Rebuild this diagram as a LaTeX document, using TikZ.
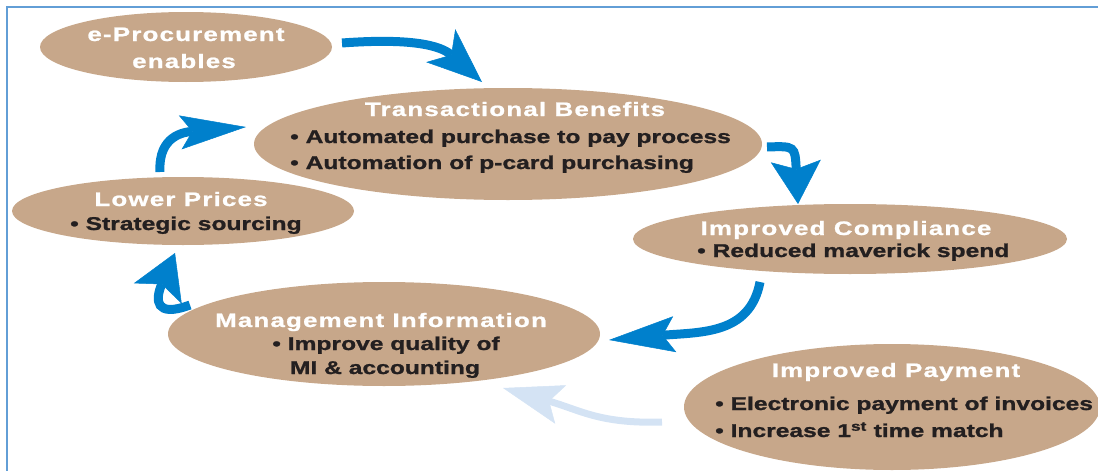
\documentclass[tikz,border=0pt]{standalone}
\usepackage{fontspec}
\setmainfont{Liberation Sans}
\newfontfamily\blobfont{Liberation Sans}[FakeStretch=1.33,FakeBold=1.2]
\newfontfamily\titlefont{Liberation Sans}[FakeStretch=1.33,LetterSpace=6,FakeBold=1]
\usetikzlibrary{arrows.meta,shapes.geometric}

\definecolor{blobtan}{RGB}{199,167,138}
\definecolor{flowblue}{RGB}{0,128,204}
\definecolor{paleblue}{RGB}{212,227,244}
\definecolor{frameblue}{RGB}{98,158,214}
\definecolor{ink}{RGB}{35,31,32}

\tikzset{
  blob/.style={ellipse, fill=blobtan, inner sep=0pt},
  ttl/.style={anchor=base, text=white, inner sep=0pt,
    font=\titlefont\bfseries\fontsize{19.5}{24}\selectfont},
  itm/.style={anchor=base west, text=ink, inner sep=0pt,
    font=\blobfont\bfseries\fontsize{18.5}{22}\selectfont},
  flow/.style={draw=flowblue, line width=9pt},
  faintflow/.style={draw=paleblue, line width=7pt},
}

\begin{document}
\begin{tikzpicture}[x=1pt, y=-1pt]
  \useasboundingbox (0,0) rectangle (1098,471);
  \clip (0,0) rectangle (1098,471);
  \draw[frameblue, line width=2pt] (7,471) -- (7,7) -- (1098,7);

  % the six ellipses
  \node[blob, minimum width=292pt, minimum height=70pt]  (ep) at (186,47) {};
  \node[blob, minimum width=508pt, minimum height=112pt] (tb) at (508,144) {};
  \node[blob, minimum width=342pt, minimum height=68pt]  (lp) at (183,211) {};
  \node[blob, minimum width=434pt, minimum height=70pt]  (ic) at (850,239) {};
  \node[blob, minimum width=432pt, minimum height=104pt] (mi) at (384,334) {};
  \node[blob, minimum width=416pt, minimum height=126pt] (ip) at (892,407) {};

  % texts
  \node[ttl] (eptitle) at (186,41) {e-Procurement};
  \node[ttl] (epsub) at (184,68) {enables};

  \node[ttl] (tbtitle) at (515,116) {Transactional Benefits};
  \node[itm] (tbone) at (290,143) {• Automated purchase to pay process};
  \node[itm] (tbtwo) at (290,169) {• Automation of p-card purchasing};

  \node[ttl] (lptitle) at (181,206) {Lower Prices};
  \node[itm] (lpone) at (70,230) {• Strategic sourcing};

  \node[ttl] (ictitle) at (846,235) {Improved Compliance};
  \node[itm] (icone) at (697,257) {• Reduced maverick spend};

  \node[ttl] (mititle) at (381,327) {Management Information};
  \node[itm, anchor=base] (mione) at (386,350) {• Improve quality of};
  \node[itm, anchor=base] (mitwo) at (385,374) {MI \& accounting};

  \node[ttl] (iptitle) at (896,377) {Improved Payment};
  \node[itm] (ipone) at (715,410) {• Electronic payment of invoices};
  \node[itm] (iptwo) at (715,437) {• Increase 1\textsuperscript{st} time match};

  % arrow ends
  \coordinate (a1s) at (342,43);  \coordinate (a1e) at (482,82);
  \coordinate (a2s) at (767,147); \coordinate (a2e) at (798,204);
  \coordinate (a3s) at (760,282); \coordinate (a3e) at (609,340);
  \coordinate (a4s) at (190,305); \coordinate (a4e) at (175,253);
  \coordinate (a5s) at (160,172); \coordinate (a5e) at (246,127);
  \coordinate (a6s) at (662,422); \coordinate (a6e) at (503,388);

  % arrows
  \draw[faintflow, -{Stealth[length=60pt,width=40pt,inset=12pt,line width=0.5pt]}]
    (a6s) .. controls (600,424) and (580,410) .. (a6e);
  \draw[flow, -{Stealth[length=55pt,width=44pt,inset=14pt,line width=0.5pt]}]
    (a1s) .. controls (410,38) and (440,45) .. (a1e);
  \draw[flow, -{Stealth[length=43pt,width=50pt,inset=8pt,line width=0.5pt]}]
    (a2s) .. controls (795,146) .. (a2e);
  \draw[flow, -{Stealth[length=66pt,width=36pt,inset=12pt,line width=0.5pt]}]
    (a3s) .. controls (750,335) and (700,332) .. (a3e);
  \draw[flow, -{Stealth[length=44pt,width=52pt,inset=10pt,line width=0.5pt]}]
    (a4s) .. controls (155,318) and (155,300) .. (a4e);
  \draw[flow, -{Stealth[length=66pt,width=34pt,inset=12pt,line width=0.5pt]}]
    (a5s) .. controls (158,135) and (185,132) .. (a5e);
\end{tikzpicture}
\end{document}
